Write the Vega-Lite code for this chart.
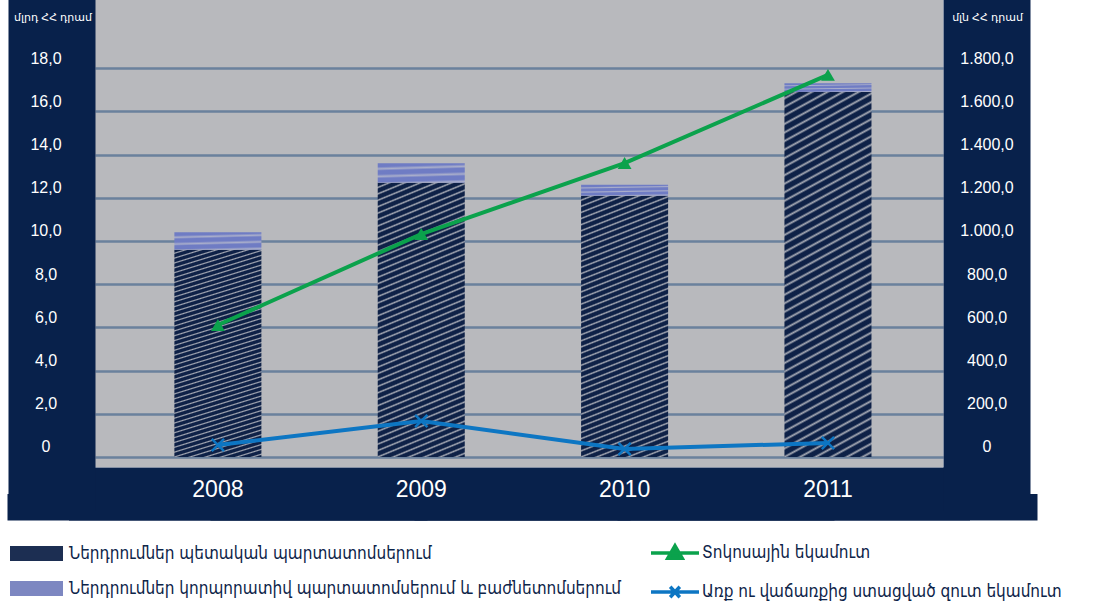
{
  "$schema": "https://vega.github.io/schema/vega-lite/v6.json",
  "width": 848,
  "height": 467,
  "autosize": {"type": "none"},
  "padding": {"left": 95, "top": 0, "right": 175, "bottom": 138},
  "background": "white",
  "config": {
    "view": {"fill": "#b8b9bd", "stroke": null},
    "font": "Liberation Sans, DejaVu Sans, Arial, sans-serif"
  },
  "datasets": {
    "bars": [
      {"year": "2008", "type": "Ներդրումներ պետական պարտատոմսերում", "value": 9.6},
      {"year": "2008", "type": "Ներդրումներ կորպորատիվ պարտատոմսերում և բաժնետոմսերում", "value": 0.8},
      {"year": "2009", "type": "Ներդրումներ պետական պարտատոմսերում", "value": 12.7},
      {"year": "2009", "type": "Ներդրումներ կորպորատիվ պարտատոմսերում և բաժնետոմսերում", "value": 0.9},
      {"year": "2010", "type": "Ներդրումներ պետական պարտատոմսերում", "value": 12.1},
      {"year": "2010", "type": "Ներդրումներ կորպորատիվ պարտատոմսերում և բաժնետոմսերում", "value": 0.5},
      {"year": "2011", "type": "Ներդրումներ պետական պարտատոմսերում", "value": 16.9},
      {"year": "2011", "type": "Ներդրումներ կորպորատիվ պարտատոմսերում և բաժնետոմսերում", "value": 0.4}
    ],
    "lines": [
      {"year": "2008", "series": "Տոկոսային եկամուտ", "value": 611},
      {"year": "2009", "series": "Տոկոսային եկամուտ", "value": 1032},
      {"year": "2010", "series": "Տոկոսային եկամուտ", "value": 1361},
      {"year": "2011", "series": "Տոկոսային եկամուտ", "value": 1769},
      {"year": "2008", "series": "Առք ու վաճառքից ստացված զուտ եկամուտ", "value": 56},
      {"year": "2009", "series": "Առք ու վաճառքից ստացված զուտ եկամուտ", "value": 167},
      {"year": "2010", "series": "Առք ու վաճառքից ստացված զուտ եկամուտ", "value": 37},
      {"year": "2011", "series": "Առք ու վաճառքից ստացված զուտ եկամուտ", "value": 65}
    ]
  },
  "layer": [
    {
      "data": {"name": "bars"},
      "mark": {"type": "point", "opacity": 0},
      "encoding": {
        "x": {
          "field": "year", "type": "ordinal",
          "scale": {"paddingInner": 0.572, "paddingOuter": 0.371, "align": 0.526},
          "axis": {
            "orient": "bottom", "offset": 26.5,
            "domainColor": "#08214b", "domainWidth": 53, "domainCap": "square",
            "ticks": true, "tickColor": "#08214b", "tickSize": 26.5, "tickWidth": 420, "tickOffset": -1, "tickCap": "butt",
            "labels": false, "title": null, "grid": false
          }
        },
        "y": {
          "field": "value", "type": "quantitative",
          "scale": {"domain": [-0.463, 21.157], "nice": false, "zero": false},
          "axis": {
            "orient": "left", "offset": 43.5,
            "domainColor": "#08214b", "domainWidth": 87, "domainCap": "square",
            "ticks": false, "labels": false, "title": null,
            "values": [0, 2, 4, 6, 8, 10, 12, 14, 16, 18],
            "grid": true, "gridColor": "#6a819d", "gridWidth": 2.5
          }
        }
      }
    },
    {
      "data": {"name": "lines"},
      "mark": {"type": "point", "opacity": 0},
      "encoding": {
        "x": {"field": "year", "type": "ordinal", "axis": null},
        "y": {
          "field": "value", "type": "quantitative",
          "scale": {"domain": [-46.3, 2115.7], "nice": false, "zero": false},
          "axis": {
            "orient": "right", "offset": 43.5,
            "domainColor": "#08214b", "domainWidth": 87, "domainCap": "square",
            "ticks": false, "labels": false, "title": null, "grid": false
          }
        }
      }
    },
    {
      "data": {"name": "bars"},
      "encoding": {
        "x": {
          "field": "year", "type": "ordinal",
          "axis": {
            "orient": "bottom", "domain": false, "ticks": false, "grid": false,
            "labelColor": "white", "labelFontSize": 23, "labelAngle": 0, "labelBaseline": "middle", "labelPadding": 22,
            "title": null
          }
        }
      },
      "layer": [
        {
          "mark": {"type": "bar", "opacity": 0},
          "encoding": {
            "y": {
              "field": "value", "type": "quantitative", "stack": "zero",
              "scale": {"domain": [-0.463, 21.157], "nice": false, "zero": false},
              "axis": {
                "orient": "left", "domain": false, "ticks": false, "grid": false,
                "values": [0, 2, 4, 6, 8, 10, 12, 14, 16, 18],
                "labelExpr": "datum.value == 0 ? '0' : replace(format(datum.value, '.1f'), '.', ',')",
                "labelColor": "white", "labelFontSize": 16, "labelAlign": "center", "labelBaseline": "middle",
                "labelPadding": 49.5, "labelOffset": -10,
                "title": "մլրդ ՀՀ դրամ", "titleAngle": 0, "titleColor": "white", "titleFontSize": 11,
                "titleFontWeight": "normal", "titleAlign": "center", "titleBaseline": "middle",
                "titleX": -42.5, "titleY": 17
              }
            },
            "color": {
              "field": "type", "type": "nominal",
              "scale": {
                "domain": ["Ներդրումներ պետական պարտատոմսերում", "Ներդրումներ կորպորատիվ պարտատոմսերում և բաժնետոմսերում"],
                "range": ["#1c2e52", "#7d87c1"]
              },
              "legend": {
                "orient": "none", "legendX": -85, "legendY": 527, "title": null, "direction": "vertical",
                "symbolType": "M-1,-0.28L1,-0.28L1,0.28L-1,0.28Z", "symbolSize": 2809, "symbolStrokeWidth": 0, "symbolOpacity": 1,
                "labelFont": "DejaVu Sans Condensed, DejaVu Sans", "labelFontSize": 17, "labelColor": "#0d2449",
                "labelOffset": 6, "labelLimit": 0, "padding": 0, "rowPadding": 0
              }
            },
            "order": {"field": "type", "sort": "descending"}
          }
        },
        {
          "transform": [{"filter": "datum.type == 'Ներդրումներ պետական պարտատոմսերում'"}],
          "mark": {
            "type": "bar",
            "fill": {
              "gradient": "linear", "x1": 0, "y1": 0, "x2": 0.15, "y2": 1.15,
              "stops": [
                {"offset": 0, "color": "#0e2147"}, {"offset": 0.01, "color": "#0e2147"}, {"offset": 0.015, "color": "#a4a8b3"},
                {"offset": 0.02, "color": "#0e2147"}, {"offset": 0.03, "color": "#0e2147"}, {"offset": 0.035, "color": "#a4a8b3"},
                {"offset": 0.04, "color": "#0e2147"}, {"offset": 0.05, "color": "#0e2147"}, {"offset": 0.055, "color": "#a4a8b3"},
                {"offset": 0.06, "color": "#0e2147"}, {"offset": 0.07, "color": "#0e2147"}, {"offset": 0.075, "color": "#a4a8b3"},
                {"offset": 0.08, "color": "#0e2147"}, {"offset": 0.09, "color": "#0e2147"}, {"offset": 0.095, "color": "#a4a8b3"},
                {"offset": 0.1, "color": "#0e2147"}, {"offset": 0.11, "color": "#0e2147"}, {"offset": 0.115, "color": "#a4a8b3"},
                {"offset": 0.12, "color": "#0e2147"}, {"offset": 0.13, "color": "#0e2147"}, {"offset": 0.135, "color": "#a4a8b3"},
                {"offset": 0.14, "color": "#0e2147"}, {"offset": 0.15, "color": "#0e2147"}, {"offset": 0.155, "color": "#a4a8b3"},
                {"offset": 0.16, "color": "#0e2147"}, {"offset": 0.17, "color": "#0e2147"}, {"offset": 0.175, "color": "#a4a8b3"},
                {"offset": 0.18, "color": "#0e2147"}, {"offset": 0.19, "color": "#0e2147"}, {"offset": 0.195, "color": "#a4a8b3"},
                {"offset": 0.2, "color": "#0e2147"}, {"offset": 0.21, "color": "#0e2147"}, {"offset": 0.215, "color": "#a4a8b3"},
                {"offset": 0.22, "color": "#0e2147"}, {"offset": 0.23, "color": "#0e2147"}, {"offset": 0.235, "color": "#a4a8b3"},
                {"offset": 0.24, "color": "#0e2147"}, {"offset": 0.25, "color": "#0e2147"}, {"offset": 0.255, "color": "#a4a8b3"},
                {"offset": 0.26, "color": "#0e2147"}, {"offset": 0.27, "color": "#0e2147"}, {"offset": 0.275, "color": "#a4a8b3"},
                {"offset": 0.28, "color": "#0e2147"}, {"offset": 0.29, "color": "#0e2147"}, {"offset": 0.295, "color": "#a4a8b3"},
                {"offset": 0.3, "color": "#0e2147"}, {"offset": 0.31, "color": "#0e2147"}, {"offset": 0.315, "color": "#a4a8b3"},
                {"offset": 0.32, "color": "#0e2147"}, {"offset": 0.33, "color": "#0e2147"}, {"offset": 0.335, "color": "#a4a8b3"},
                {"offset": 0.34, "color": "#0e2147"}, {"offset": 0.35, "color": "#0e2147"}, {"offset": 0.355, "color": "#a4a8b3"},
                {"offset": 0.36, "color": "#0e2147"}, {"offset": 0.37, "color": "#0e2147"}, {"offset": 0.375, "color": "#a4a8b3"},
                {"offset": 0.38, "color": "#0e2147"}, {"offset": 0.39, "color": "#0e2147"}, {"offset": 0.395, "color": "#a4a8b3"},
                {"offset": 0.4, "color": "#0e2147"}, {"offset": 0.41, "color": "#0e2147"}, {"offset": 0.415, "color": "#a4a8b3"},
                {"offset": 0.42, "color": "#0e2147"}, {"offset": 0.43, "color": "#0e2147"}, {"offset": 0.435, "color": "#a4a8b3"},
                {"offset": 0.44, "color": "#0e2147"}, {"offset": 0.45, "color": "#0e2147"}, {"offset": 0.455, "color": "#a4a8b3"},
                {"offset": 0.46, "color": "#0e2147"}, {"offset": 0.47, "color": "#0e2147"}, {"offset": 0.475, "color": "#a4a8b3"},
                {"offset": 0.48, "color": "#0e2147"}, {"offset": 0.49, "color": "#0e2147"}, {"offset": 0.495, "color": "#a4a8b3"},
                {"offset": 0.5, "color": "#0e2147"}, {"offset": 0.51, "color": "#0e2147"}, {"offset": 0.515, "color": "#a4a8b3"},
                {"offset": 0.52, "color": "#0e2147"}, {"offset": 0.53, "color": "#0e2147"}, {"offset": 0.535, "color": "#a4a8b3"},
                {"offset": 0.54, "color": "#0e2147"}, {"offset": 0.55, "color": "#0e2147"}, {"offset": 0.555, "color": "#a4a8b3"},
                {"offset": 0.56, "color": "#0e2147"}, {"offset": 0.57, "color": "#0e2147"}, {"offset": 0.575, "color": "#a4a8b3"},
                {"offset": 0.58, "color": "#0e2147"}, {"offset": 0.59, "color": "#0e2147"}, {"offset": 0.595, "color": "#a4a8b3"},
                {"offset": 0.6, "color": "#0e2147"}, {"offset": 0.61, "color": "#0e2147"}, {"offset": 0.615, "color": "#a4a8b3"},
                {"offset": 0.62, "color": "#0e2147"}, {"offset": 0.63, "color": "#0e2147"}, {"offset": 0.635, "color": "#a4a8b3"},
                {"offset": 0.64, "color": "#0e2147"}, {"offset": 0.65, "color": "#0e2147"}, {"offset": 0.655, "color": "#a4a8b3"},
                {"offset": 0.66, "color": "#0e2147"}, {"offset": 0.67, "color": "#0e2147"}, {"offset": 0.675, "color": "#a4a8b3"},
                {"offset": 0.68, "color": "#0e2147"}, {"offset": 0.69, "color": "#0e2147"}, {"offset": 0.695, "color": "#a4a8b3"},
                {"offset": 0.7, "color": "#0e2147"}, {"offset": 0.71, "color": "#0e2147"}, {"offset": 0.715, "color": "#a4a8b3"},
                {"offset": 0.72, "color": "#0e2147"}, {"offset": 0.73, "color": "#0e2147"}, {"offset": 0.735, "color": "#a4a8b3"},
                {"offset": 0.74, "color": "#0e2147"}, {"offset": 0.75, "color": "#0e2147"}, {"offset": 0.755, "color": "#a4a8b3"},
                {"offset": 0.76, "color": "#0e2147"}, {"offset": 0.77, "color": "#0e2147"}, {"offset": 0.775, "color": "#a4a8b3"},
                {"offset": 0.78, "color": "#0e2147"}, {"offset": 0.79, "color": "#0e2147"}, {"offset": 0.795, "color": "#a4a8b3"},
                {"offset": 0.8, "color": "#0e2147"}, {"offset": 0.81, "color": "#0e2147"}, {"offset": 0.815, "color": "#a4a8b3"},
                {"offset": 0.82, "color": "#0e2147"}, {"offset": 0.83, "color": "#0e2147"}, {"offset": 0.835, "color": "#a4a8b3"},
                {"offset": 0.84, "color": "#0e2147"}, {"offset": 0.85, "color": "#0e2147"}, {"offset": 0.855, "color": "#a4a8b3"},
                {"offset": 0.86, "color": "#0e2147"}, {"offset": 0.87, "color": "#0e2147"}, {"offset": 0.875, "color": "#a4a8b3"},
                {"offset": 0.88, "color": "#0e2147"}, {"offset": 0.89, "color": "#0e2147"}, {"offset": 0.895, "color": "#a4a8b3"},
                {"offset": 0.9, "color": "#0e2147"}, {"offset": 0.91, "color": "#0e2147"}, {"offset": 0.915, "color": "#a4a8b3"},
                {"offset": 0.92, "color": "#0e2147"}, {"offset": 0.93, "color": "#0e2147"}, {"offset": 0.935, "color": "#a4a8b3"},
                {"offset": 0.94, "color": "#0e2147"}, {"offset": 0.95, "color": "#0e2147"}, {"offset": 0.955, "color": "#a4a8b3"},
                {"offset": 0.96, "color": "#0e2147"}, {"offset": 0.97, "color": "#0e2147"}, {"offset": 0.975, "color": "#a4a8b3"},
                {"offset": 0.98, "color": "#0e2147"}, {"offset": 0.99, "color": "#0e2147"}, {"offset": 0.995, "color": "#a4a8b3"},
                {"offset": 1, "color": "#0e2147"}
              ]
            }
          },
          "encoding": {
            "y": {"field": "value", "type": "quantitative"}
          }
        },
        {
          "transform": [
            {"stack": "value", "groupby": ["year"], "sort": [{"field": "type", "order": "descending"}], "as": ["v0", "v1"]},
            {"filter": "datum.type == 'Ներդրումներ կորպորատիվ պարտատոմսերում և բաժնետոմսերում'"}
          ],
          "mark": {
            "type": "bar",
            "fill": {
              "gradient": "linear", "x1": 0, "y1": 0, "x2": 0.15, "y2": 1.15,
              "stops": [
                {"offset": 0, "color": "#6f7cc4"}, {"offset": 0.15, "color": "#6f7cc4"}, {"offset": 0.25, "color": "#a9aecb"},
                {"offset": 0.333, "color": "#6f7cc4"}, {"offset": 0.483, "color": "#6f7cc4"}, {"offset": 0.583, "color": "#a9aecb"},
                {"offset": 0.667, "color": "#6f7cc4"}, {"offset": 0.817, "color": "#6f7cc4"}, {"offset": 0.917, "color": "#a9aecb"},
                {"offset": 1, "color": "#6f7cc4"}
              ]
            }
          },
          "encoding": {
            "y": {"field": "v0", "type": "quantitative"},
            "y2": {"field": "v1"}
          }
        }
      ]
    },
    {
      "data": {"name": "lines"},
      "encoding": {
        "x": {"field": "year", "type": "ordinal", "axis": null},
        "y": {
          "field": "value", "type": "quantitative",
          "scale": {"domain": [-46.3, 2115.7], "nice": false, "zero": false},
          "axis": {
            "orient": "right", "domain": false, "ticks": false, "grid": false,
            "values": [0, 200, 400, 600, 800, 1000, 1200, 1400, 1600, 1800],
            "labelExpr": "datum.value == 0 ? '0' : replace(replace(replace(format(datum.value, ',.1f'), ',', '#'), '.', ','), '#', '.')",
            "labelColor": "white", "labelFontSize": 16, "labelAlign": "center", "labelBaseline": "middle",
            "labelPadding": 43.5, "labelOffset": -10,
            "title": "մլն ՀՀ դրամ", "titleAngle": 0, "titleColor": "white", "titleFontSize": 11,
            "titleFontWeight": "normal", "titleAlign": "center", "titleBaseline": "middle",
            "titleX": 44, "titleY": 17
          }
        }
      },
      "layer": [
        {
          "transform": [{"filter": "datum.series == 'Տոկոսային եկամուտ'"}],
          "mark": {"type": "line", "color": "#0ba24c", "strokeWidth": 4}
        },
        {
          "transform": [{"filter": "datum.series == 'Առք ու վաճառքից ստացված զուտ եկամուտ'"}],
          "mark": {"type": "line", "color": "#0d76c3", "strokeWidth": 4}
        },
        {
          "transform": [{"filter": "datum.series == 'Տոկոսային եկամուտ'"}],
          "mark": {"type": "point", "shape": "triangle-up", "filled": true, "color": "#0ba24c", "size": 190, "opacity": 1}
        },
        {
          "transform": [{"filter": "datum.series == 'Առք ու վաճառքից ստացված զուտ եկամուտ'"}],
          "mark": {"type": "point", "shape": "M-1,-1L1,1M-1,1L1,-1", "filled": false, "color": "#0d76c3", "size": 150, "strokeWidth": 2.5, "opacity": 1}
        },
        {
          "mark": {"type": "point", "filled": true, "opacity": 0},
          "encoding": {
            "shape": {
              "field": "series", "type": "nominal",
              "scale": {
                "domain": ["Տոկոսային եկամուտ", "Առք ու վաճառքից ստացված զուտ եկամուտ"],
                "range": ["M-1,0L1,0M0,-0.3L0.3,0.22L-0.3,0.22Z", "M-1,0L1,0M-0.2,-0.22L0.2,0.22M-0.2,0.22L0.2,-0.22"]
              },
              "legend": {
                "orient": "none", "legendX": 554, "legendY": 527, "title": null, "direction": "vertical",
                "symbolSize": 2304, "symbolStrokeWidth": 3.5, "symbolOpacity": 1,
                "labelFont": "DejaVu Sans Condensed, DejaVu Sans", "labelFontSize": 17, "labelColor": "#0d2449",
                "labelOffset": 1, "labelLimit": 0, "padding": 0, "rowPadding": 0
              }
            },
            "fill": {
              "field": "series", "type": "nominal",
              "scale": {"domain": ["Տոկոսային եկամուտ", "Առք ու վաճառքից ստացված զուտ եկամուտ"], "range": ["#0ba24c", "#0d76c3"]},
              "legend": {
                "orient": "none", "legendX": 554, "legendY": 527, "title": null, "direction": "vertical",
                "symbolSize": 2304, "symbolStrokeWidth": 3.5, "symbolOpacity": 1,
                "labelFont": "DejaVu Sans Condensed, DejaVu Sans", "labelFontSize": 17, "labelColor": "#0d2449",
                "labelOffset": 1, "labelLimit": 0, "padding": 0, "rowPadding": 0
              }
            },
            "stroke": {
              "field": "series", "type": "nominal",
              "scale": {"domain": ["Տոկոսային եկամուտ", "Առք ու վաճառքից ստացված զուտ եկամուտ"], "range": ["#0ba24c", "#0d76c3"]},
              "legend": {
                "orient": "none", "legendX": 554, "legendY": 527, "title": null, "direction": "vertical",
                "symbolSize": 2304, "symbolStrokeWidth": 3.5, "symbolOpacity": 1,
                "labelFont": "DejaVu Sans Condensed, DejaVu Sans", "labelFontSize": 17, "labelColor": "#0d2449",
                "labelOffset": 1, "labelLimit": 0, "padding": 0, "rowPadding": 0
              }
            }
          }
        }
      ]
    }
  ],
  "resolve": {"scale": {"y": "independent"}, "axis": {"x": "independent"}}
}
